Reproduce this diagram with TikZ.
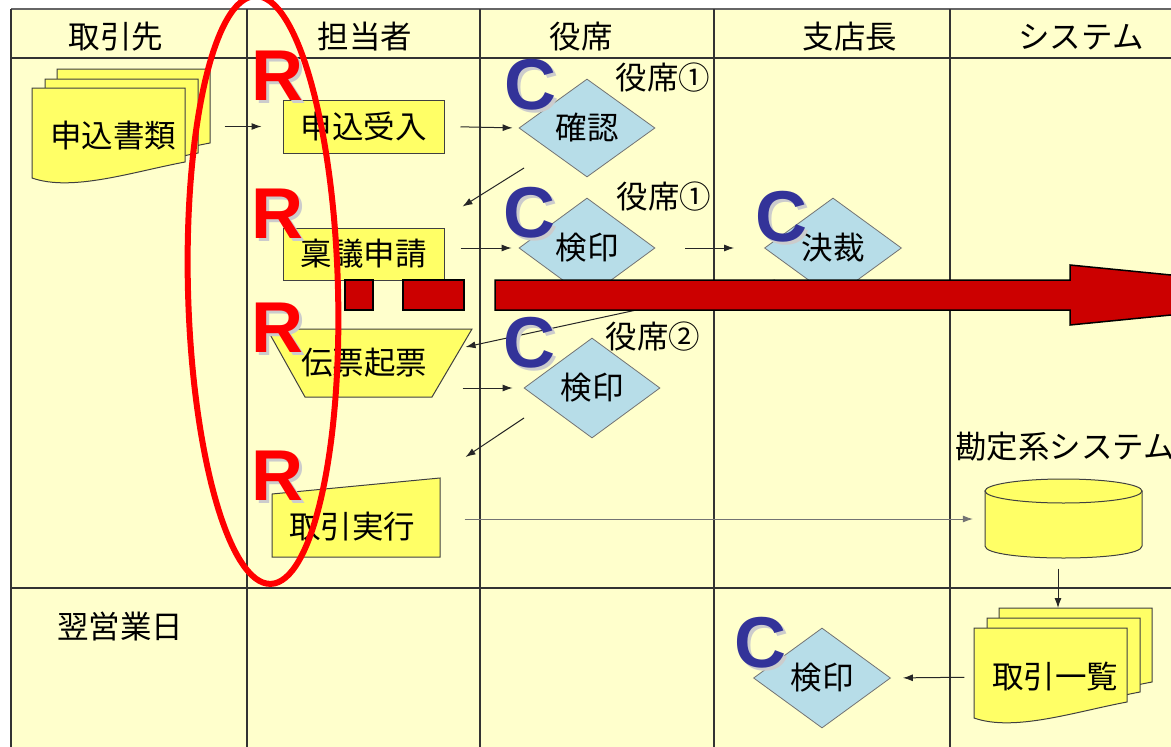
\documentclass[tikz,border=0pt]{standalone}
\usepackage{fontspec}
\setmainfont{Noto Sans CJK JP}
\newfontfamily\markfont{Liberation Sans}
\usetikzlibrary{shapes.geometric,arrows.meta}

\definecolor{lanebg}{HTML}{FFFFCC}
\definecolor{boxyellow}{HTML}{FFFF66}
\definecolor{checkblue}{HTML}{B7DDE8}
\definecolor{markblue}{HTML}{333399}
\definecolor{barred}{HTML}{CC0000}

\tikzset{
  lane/.style={line width=1.3pt, black!80},
  box/.style={draw=black!75, fill=boxyellow, line width=1pt, inner sep=0pt},
  check/.style={diamond, draw=black!55, fill=checkblue, line width=0.8pt, inner sep=0pt,
                minimum width=136pt, minimum height=100pt},
  flow/.style={->, line width=1pt, black!85},
  rmark/.style={font=\markfont\bfseries\fontsize{72}{80}\selectfont, text=red, inner sep=0pt, anchor=base},
  cmark/.style={font=\markfont\bfseries\fontsize{72}{80}\selectfont, text=markblue, inner sep=0pt, anchor=base},
  sheet/.pic={
    \filldraw[draw=black!75, fill=boxyellow, line width=1pt]
      (0,0) -- (153,0) -- (153,74) .. controls (100,84) and (40,104) .. (0,90) -- cycle;
  }
}

\begin{document}
\begin{tikzpicture}[x=1pt, y=-1pt, >={Latex[length=10pt,width=7pt]}, font=\fontsize{31.5}{36}\selectfont]
    \useasboundingbox (0,0) rectangle (1171,747);
    \clip (0,0) rectangle (1171,747);

    % swim lanes
    \fill[lanebg] (11,9) rectangle (1180,760);
    \draw[line width=2pt, black!60] (11,9) -- (1180,9);
    \draw[lane] (11,9) -- (11,760);
    \draw[lane] (11,58) -- (1180,58);
    \draw[lane] (11,588) -- (1180,588);
    \foreach \lx in {247, 480, 714, 950}
        \draw[lane] (\lx,9) -- (\lx,760);

    \node (h1) at (116,37) {取引先};
    \node (h2) at (365,37) {担当者};
    \node (h3) at (581,37) {役席};
    \node (h4) at (850,37) {支店長};
    \node (h5) at (1081,37) {システム};
    \node (nextday) at (120,627) {翌営業日};

    % documents from the customer
    \pic at (57,69) {sheet};
    \pic at (45,79) {sheet};
    \pic at (32,88) {sheet};
    \node (apply) at (113,136) {申込書類};

    % staff
    \node[box, minimum width=161pt, minimum height=53pt] (intake) at (363.5,126.5) {申込受入};
    \node[box, minimum width=161pt, minimum height=52pt] (ringi) at (363.5,254) {稟議申請};
    \filldraw[draw=black!75, fill=boxyellow, line width=1pt] (267,329) -- (472,329) -- (432,397) -- (305,397) -- cycle;
    \node (slip) at (364,363) {伝票起票};
    \filldraw[draw=black!75, fill=boxyellow, line width=1pt] (272,494) -- (440,478) -- (440,557) -- (272,557) -- cycle;
    \node (exec) at (352,527) {取引実行};

    % checks
    \node[check, minimum height=98pt] (check1) at (587,128) {確認};
    \node[check] (stamp1) at (587,248) {検印};
    \node[check, minimum width=137pt] (approve) at (833,248) {決裁};
    \node[check] (stamp2) at (592,388) {検印};
    \node[check, minimum width=137pt] (stamp3) at (822,678) {検印};
    \node (who1) at (663,78) {役席①};
    \node (who2) at (664,197) {役席①};
    \node (who3) at (653,337) {役席②};

    % system
    \filldraw[draw=black!75, fill=boxyellow, line width=1pt]
        (985,491) -- (985,546) .. controls (985,562) and (1142,562) .. (1142,546) -- (1142,491) -- cycle;
    \filldraw[draw=black!75, fill=boxyellow, line width=1pt] (1063.5,491) ellipse [x radius=78.5pt, y radius=12pt];
    \node[minimum width=157pt, minimum height=79pt] (ledger) at (1063.5,519) {};
    \node[anchor=west, inner sep=0pt] (ledgername) at (955,447) {勘定系システム};
    \pic at (999,608) {sheet};
    \pic at (987,618) {sheet};
    \pic at (974,628) {sheet};
    \node (list) at (1055,677) {取引一覧};
    \coordinate (listtop) at (1058,608);

    % flow
    \draw[flow, shorten <=45pt, shorten >=21pt] (apply.east |- intake.west) -- (intake.west);
    \draw[flow, shorten <=16pt, shorten >=6pt] (intake.east) -- (check1.west);
    \draw[flow] ([xshift=-63pt,yshift=-40pt]check1.center) -- ([xshift=18pt,yshift=21pt]ringi.north east);
    \draw[flow, shorten <=16pt, shorten >=7pt] (ringi.east |- stamp1.west) -- (stamp1.west);
    \draw[flow, shorten <=30pt, shorten >=30pt] (stamp1.east) -- (approve.west);
    \draw[flow] ([xshift=-58pt,yshift=-32pt]approve.center) -- ([xshift=35pt,yshift=16pt]slip.east);
    \draw[flow, shorten <=32pt, shorten >=11pt] (slip.east |- stamp2.west) -- (stamp2.west);
    \draw[flow] ([xshift=-68pt,yshift=-30pt]stamp2.center) -- ([xshift=47pt,yshift=70pt]exec.east);
    \draw[->, line width=0.8pt, black!55, shorten <=46pt, shorten >=12pt] (exec.east |- ledger.west) -- (ledger.west);
    \draw[flow, shorten <=10pt] ([xshift=-5.5pt]ledger.south) -- (listtop);
    \draw[flow, shorten <=24pt, shorten >=12pt] (list.west) -- (stamp3.east);

    % red bar arrow
    \filldraw[fill=barred, draw=black, line width=1.5pt] (345,280) rectangle (373,310);
    \filldraw[fill=barred, draw=black, line width=1.5pt] (403,280) rectangle (464,310);
    \filldraw[fill=barred, draw=black, line width=1.5pt]
        (495,280) -- (1070,280) -- (1070,265) -- (1373,295) -- (1070,325) -- (1070,310) -- (495,310) -- cycle;

    % R and C marks
    \foreach \px/\py [count=\i] in {277/100, 277/238, 277/352, 277/500} {
        \node[rmark, text=black!20] (rs\i) at (\px+3,\py+3) {R};
        \node[rmark] (r\i) at (\px,\py) {R};
    }
    \foreach \px/\py [count=\i] in {530/109, 529/237, 529/367, 781/241, 760/667} {
        \node[cmark, text=black!20] (cs\i) at (\px+3,\py+3) {C};
        \node[cmark] (c\i) at (\px,\py) {C};
    }

    % responsibility ring
    \draw[red, line width=6pt, rotate around={1.5:(263,290)}] (263,290) ellipse [x radius=75pt, y radius=294pt];
\end{tikzpicture}
\end{document}
